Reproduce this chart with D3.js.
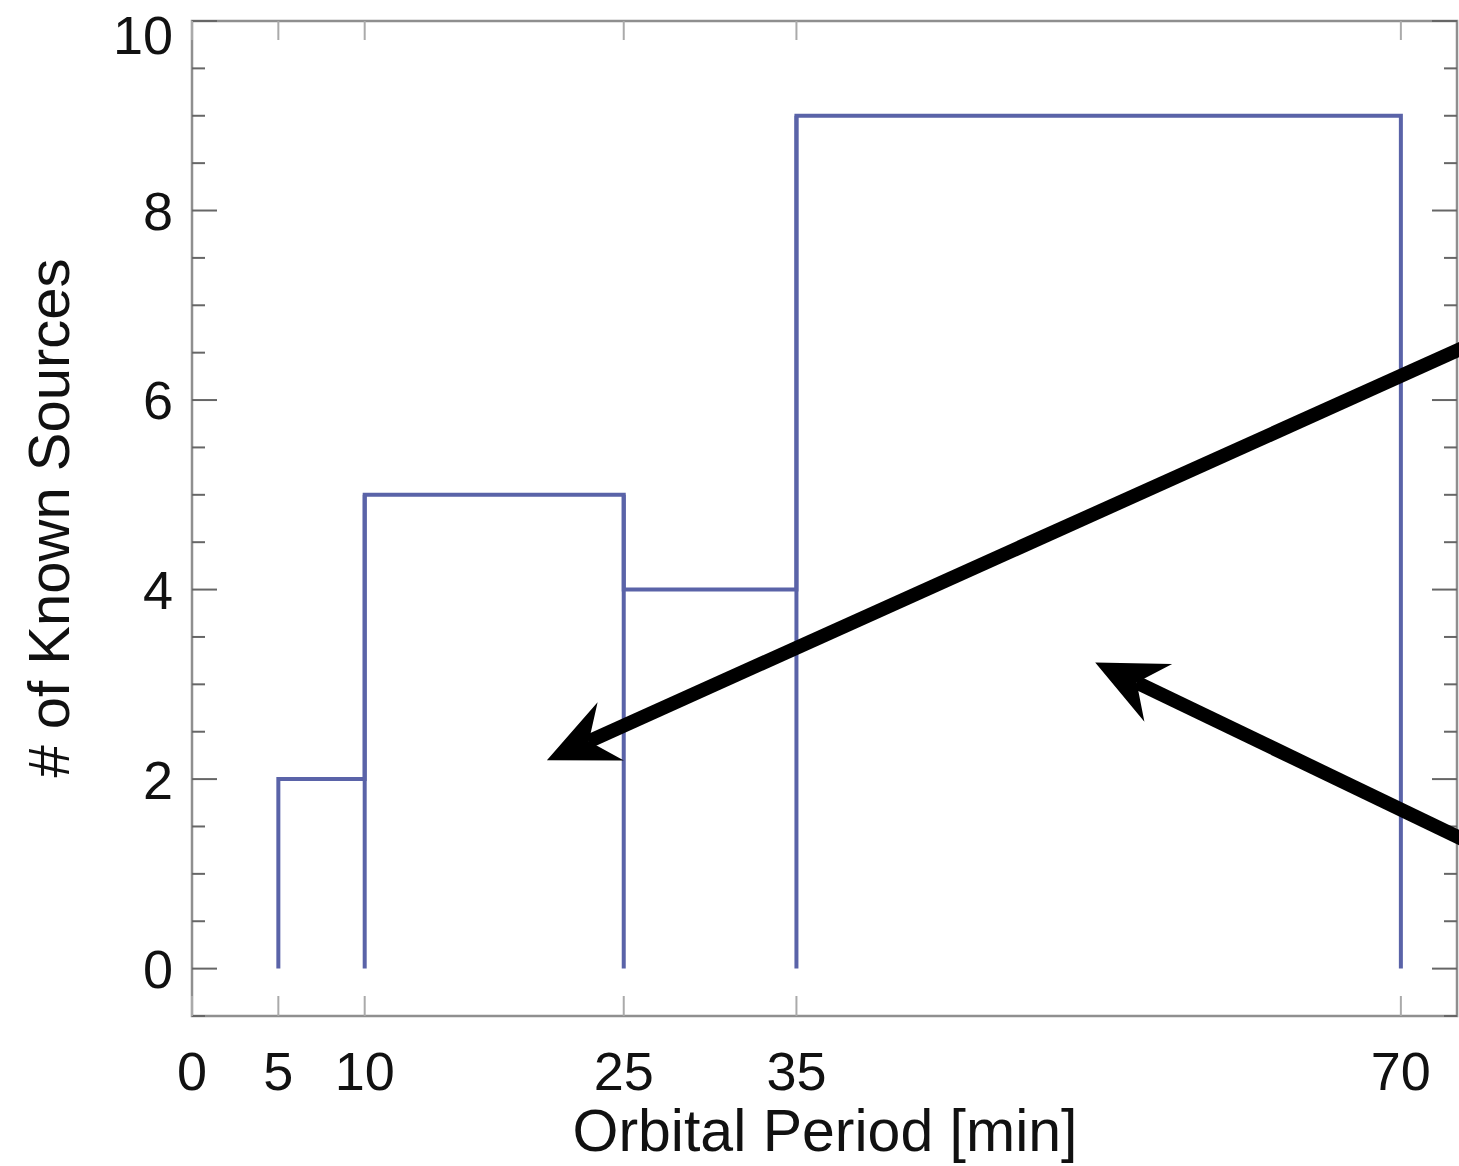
<!DOCTYPE html>
<html>
<head>
<meta charset="utf-8">
<script src="https://cdn.jsdelivr.net/npm/d3@7"></script>
<style>
  body { margin: 0; background: #fff; }
  svg text { font-family: "Liberation Sans", Arial, sans-serif; fill: #111; }
</style>
</head>
<body>
<div id="chart"></div>
<script>
// histogram data: bin edges and counts
var binEdges = [5, 10, 25, 35, 70];
var counts = [2, 5, 4, 9];
var xTicks = [0, 5, 10, 25, 35, 70];
var yTicks = [0, 2, 4, 6, 8, 10];
var yMinor = d3.range(-0.5, 10.01, 0.5);

// annotation arrows in data units [from, to]
var arrowFrom = [[74.2, 6.6], [74.2, 1.31]];
var arrowTo = [[20.55, 2.2], [52.3, 3.23]];

var W = 1459, H = 1166;
var plotL = 192, plotR = 1457, plotT = 21, plotB = 1016;

var x = d3.scaleLinear().domain([0, 73.25]).range([plotL, plotR]);
var y = d3.scaleLinear().domain([-0.5, 10]).range([plotB, plotT]);

var svg = d3.select("#chart").append("svg")
    .attr("width", W).attr("height", H);

// frame
var frameColor = "#8f8f8f";
svg.append("rect")
    .attr("x", plotL).attr("y", plotT)
    .attr("width", plotR - plotL).attr("height", plotB - plotT)
    .attr("fill", "none").attr("stroke", frameColor).attr("stroke-width", 2.5);

// y ticks, left and right, major and minor
var tickColor = "#666";
yMinor.forEach(function(v) {
    var major = yTicks.indexOf(v) >= 0;
    var len = major ? 25 : 13;
    svg.append("line").attr("x1", plotL).attr("x2", plotL + len)
        .attr("y1", y(v)).attr("y2", y(v))
        .attr("stroke", tickColor).attr("stroke-width", 2);
    svg.append("line").attr("x1", plotR).attr("x2", plotR - len)
        .attr("y1", y(v)).attr("y2", y(v))
        .attr("stroke", tickColor).attr("stroke-width", 2);
});

// x ticks bottom and top
xTicks.forEach(function(v) {
    svg.append("line").attr("x1", x(v)).attr("x2", x(v))
        .attr("y1", plotB).attr("y2", plotB - 20)
        .attr("stroke", "#aaa").attr("stroke-width", 2);
    svg.append("line").attr("x1", x(v)).attr("x2", x(v))
        .attr("y1", plotT).attr("y2", plotT + 19)
        .attr("stroke", "#aaa").attr("stroke-width", 2);
});

// tick labels
svg.selectAll(".ylab").data(yTicks).enter().append("text")
    .attr("class", "ylab")
    .attr("x", plotL - 19)
    .attr("y", function(d) { return Math.max(y(d), 35); }) // top label pushed inside
    .attr("dy", "0.36em")
    .attr("text-anchor", "end")
    .attr("font-size", 54)
    .text(function(d) { return d; });

svg.selectAll(".xlab").data(xTicks).enter().append("text")
    .attr("class", "xlab")
    .attr("x", function(d) { return x(d); }).attr("y", 1090)
    .attr("text-anchor", "middle")
    .attr("font-size", 54)
    .text(function(d) { return d; });

// axis titles
svg.append("text")
    .attr("x", 825).attr("y", 1151)
    .attr("text-anchor", "middle").attr("font-size", 59)
    .text("Orbital Period [min]");
svg.append("text")
    .attr("transform", "translate(69,518) rotate(-90)")
    .attr("text-anchor", "middle").attr("font-size", 58)
    .text("# of Known Sources");

// histogram outline (steps)
var pts = [[binEdges[0], 0]];
counts.forEach(function(c, i) {
    pts.push([binEdges[i], c]);
    pts.push([binEdges[i + 1], c]);
});
pts.push([binEdges[binEdges.length - 1], 0]);

var histColor = "#5a63a8";
var line = d3.line().x(function(d) { return x(d[0]); }).y(function(d) { return y(d[1]); });
svg.append("path").attr("d", line(pts))
    .attr("fill", "none").attr("stroke", histColor).attr("stroke-width", 4);

// inner bin edges dropping to zero
for (var k = 1; k < binEdges.length - 1; k++) {
    svg.append("line").attr("x1", x(binEdges[k])).attr("x2", x(binEdges[k]))
        .attr("y1", y(0)).attr("y2", y(Math.max(counts[k - 1], counts[k])))
        .attr("stroke", histColor).attr("stroke-width", 4);
}

// arrows
function drawArrow(from, to) {
    var x0 = x(from[0]), y0 = y(from[1]), x1 = x(to[0]), y1 = y(to[1]);
    var ang = Math.atan2(y1 - y0, x1 - x0);
    var headLen = 70, headW = 32, notch = 46;
    function p(d, s) {
        return [x1 - d * Math.cos(ang) - s * Math.sin(ang), y1 - d * Math.sin(ang) + s * Math.cos(ang)];
    }
    svg.append("line")
        .attr("x1", x0).attr("y1", y0)
        .attr("x2", p(notch, 0)[0]).attr("y2", p(notch, 0)[1])
        .attr("stroke", "#000").attr("stroke-width", 14);
    var head = [[x1, y1], p(headLen, headW), p(notch, 0), p(headLen, -headW)];
    svg.append("path").attr("d", "M" + head.join("L") + "Z").attr("fill", "#000");
}
for (var i = 0; i < arrowFrom.length; i++) drawArrow(arrowFrom[i], arrowTo[i]);
</script>
</body>
</html>
